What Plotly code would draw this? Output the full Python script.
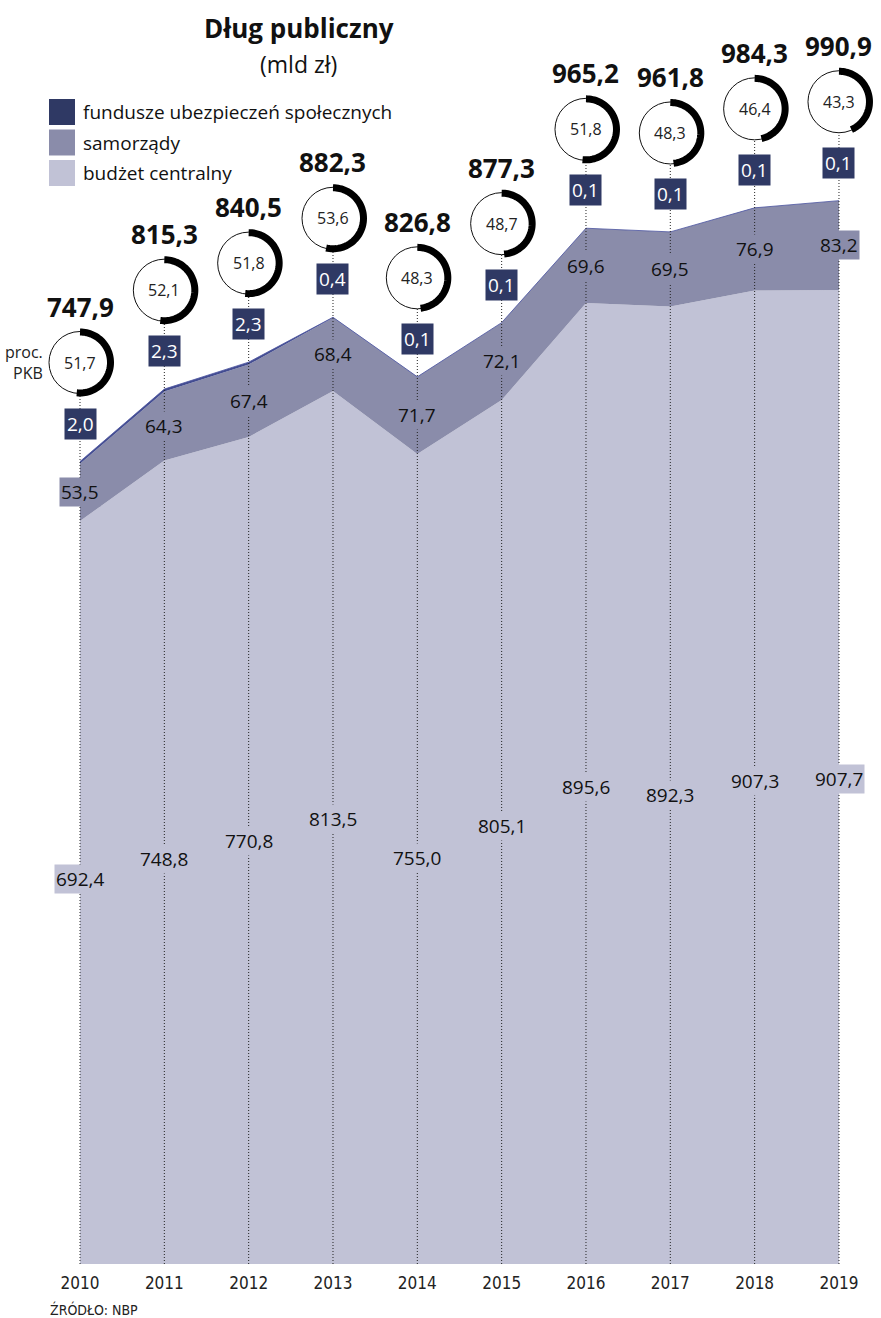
import plotly.graph_objects as go
import math

# dane (mld zł)
lata = [2010, 2011, 2012, 2013, 2014, 2015, 2016, 2017, 2018, 2019]
budzet = [692.4, 748.8, 770.8, 813.5, 755.0, 805.1, 895.6, 892.3, 907.3, 907.7]
samorzady = [53.5, 64.3, 67.4, 68.4, 71.7, 72.1, 69.6, 69.5, 76.9, 83.2]
fus = [2.0, 2.3, 2.3, 0.4, 0.1, 0.1, 0.1, 0.1, 0.1, 0.1]
razem = [747.9, 815.3, 840.5, 882.3, 826.8, 877.3, 965.2, 961.8, 984.3, 990.9]
proc_pkb = [51.7, 52.1, 51.8, 53.6, 48.3, 48.7, 51.8, 48.3, 46.4, 43.3]

C_FUS = "#2f3964"
C_SAM = "#8a8caa"
C_BUD = "#c1c2d6"
FONT = "Open Sans"
NARROW = "Liberation Sans Narrow, DejaVu Sans Condensed, sans-serif"

W, H = 881, 1318
MT, MB = 0, 54
PLOT_H = H - MT - MB
Y_MAX = 1178.0
K = PLOT_H / Y_MAX  # px na jednostkę

# pozycja osi x: rok 2010 w 80 px, krok 84,33 px
X_FIRST_PX = 80
DX = 84.33
X_LO = lata[0] - X_FIRST_PX / DX
X_HI = X_LO + W / DX

# przesunięcia etykiet (px nad szczytem)
OFF_TOTAL = 155
OFF_CIRCLE = 99
OFF_FUS = 38
R = 30.5
# drobne korekty etykiet budżetu (px)
bud_nudge = [14, 3, 9, 9, 1, 6, -3, -10, -4, -2]


def fmt(v):
    return f"{v:.1f}".replace(".", ",")


def paper(px, py):
    return px / W, 1 - (py - MT) / PLOT_H


fig = go.Figure()
fig.add_trace(go.Scatter(x=lata, y=budzet, stackgroup="a", mode="lines",
                         line=dict(width=0, color=C_BUD), fillcolor=C_BUD,
                         name="budżet centralny", hoverinfo="skip"))
fig.add_trace(go.Scatter(x=lata, y=samorzady, stackgroup="a", mode="lines",
                         line=dict(width=0, color=C_SAM), fillcolor=C_SAM,
                         name="samorządy", hoverinfo="skip"))
fig.add_trace(go.Scatter(x=lata, y=fus, stackgroup="a", mode="lines",
                         line=dict(width=0.8, color="#4a53a0"), fillcolor="#434c90",
                         name="fundusze", hoverinfo="skip"))

shapes = []
ann = []
for i, yr in enumerate(lata):
    tot = razem[i]
    # kropkowana linia
    shapes.append(dict(type="line", xref="x", yref="y", ysizemode="pixel", yanchor=tot,
                       x0=yr, x1=yr, y0=-tot * K, y1=OFF_CIRCLE - R,
                       line=dict(color="#222", width=1, dash="1px,2px")))
    # okrąg
    shapes.append(dict(type="circle", xref="x", yref="y", xsizemode="pixel", ysizemode="pixel",
                       xanchor=yr, yanchor=tot, x0=-R - 0.5, x1=R + 0.5,
                       y0=OFF_CIRCLE - R - 0.5, y1=OFF_CIRCLE + R + 0.5,
                       line=dict(color="#111", width=1), fillcolor="white"))
    # łuk
    n = 60
    pts = []
    for j in range(n + 1):
        th = 2 * math.pi * proc_pkb[i] / 100 * j / n
        pts.append((R * math.sin(th), OFF_CIRCLE + R * math.cos(th)))
    path = "M " + " L ".join(f"{x:.2f},{y:.2f}" for x, y in pts)
    shapes.append(dict(type="path", xref="x", yref="y", xsizemode="pixel", ysizemode="pixel",
                       xanchor=yr, yanchor=tot, path=path,
                       line=dict(color="black", width=7)))
    # suma
    ann.append(dict(x=yr, y=tot, yshift=OFF_TOTAL, text=f"<b>{fmt(tot)}</b>", showarrow=False,
                    font=dict(size=26, color="#111", family=FONT)))
    ann.append(dict(x=yr, y=tot, yshift=OFF_CIRCLE, text=fmt(proc_pkb[i]), showarrow=False,
                    font=dict(size=16, color="#222", family=FONT)))
    ann.append(dict(x=yr, y=tot, yshift=OFF_FUS, text=fmt(fus[i]), showarrow=False,
                    bgcolor=C_FUS, borderpad=2,
                    font=dict(size=19, color="white", family=FONT)))
    ann.append(dict(x=yr, y=budzet[i] + samorzady[i] / 2, text=fmt(samorzady[i]), showarrow=False,
                    bgcolor=C_SAM, borderpad=1,
                    font=dict(size=19, color="#111", family=FONT)))
    ann.append(dict(x=yr, y=budzet[i] / 2, yshift=bud_nudge[i], text=fmt(budzet[i]), showarrow=False,
                    bgcolor=C_BUD, borderpad=1,
                    font=dict(size=19, color="#111", family=FONT)))

ann.append(dict(x=lata[0], y=razem[0], xshift=-35, yshift=OFF_CIRCLE, xanchor="right",
                yanchor="middle", text="proc.<br>PKB", align="right", showarrow=False,
                font=dict(size=16, color="#222", family=FONT)))

# tytuł
tx, ty = paper(299, 28)
ann.append(dict(xref="paper", yref="paper", x=tx, y=ty, xanchor="center", yanchor="middle",
                text="<b>Dług publiczny</b>", showarrow=False,
                font=dict(size=26, color="#111", family=FONT)))
tx, ty = paper(298, 64)
ann.append(dict(xref="paper", yref="paper", x=tx, y=ty, xanchor="center", yanchor="middle",
                text="(mld zł)", showarrow=False,
                font=dict(size=23, color="#111", family=FONT)))

# legenda
leg = [("fundusze ubezpieczeń społecznych", C_FUS), ("samorządy", C_SAM), ("budżet centralny", C_BUD)]
for k, (lab, col) in enumerate(leg):
    top = 99 + k * 30.5
    x0, y1 = paper(49, top)
    x1, y0 = paper(75, top + 26)
    shapes.append(dict(type="rect", xref="paper", yref="paper", x0=x0, x1=x1, y0=y0, y1=y1,
                       line=dict(width=0), fillcolor=col))
    lx, ly = paper(81, top + 13)
    ann.append(dict(xref="paper", yref="paper", x=lx, y=ly, xanchor="left", yanchor="middle",
                    text=lab, showarrow=False, font=dict(size=19, color="#111", family=FONT)))

sx, sy = paper(48, 1309)
ann.append(dict(xref="paper", yref="paper", x=sx, y=sy, xanchor="left", yanchor="middle",
                text="ŹRÓDŁO: NBP", showarrow=False,
                font=dict(size=14, color="#222", family=NARROW)))

fig.update_layout(
    width=W, height=H, margin=dict(l=0, r=0, t=MT, b=MB),
    paper_bgcolor="white", plot_bgcolor="white", showlegend=False,
    shapes=shapes, annotations=ann,
    xaxis=dict(range=[X_LO, X_HI], tickvals=lata, ticktext=[str(y) for y in lata],
               showgrid=False, zeroline=False, showline=False, ticks="",
               ticklabelstandoff=7,
               tickfont=dict(size=17, color="#222", family=NARROW)),
    yaxis=dict(range=[0, Y_MAX], visible=False, showgrid=False, zeroline=False),
)

fig.write_html("out.html", config={"displayModeBar": False},
               post_script="document.body.style.margin='0';")
